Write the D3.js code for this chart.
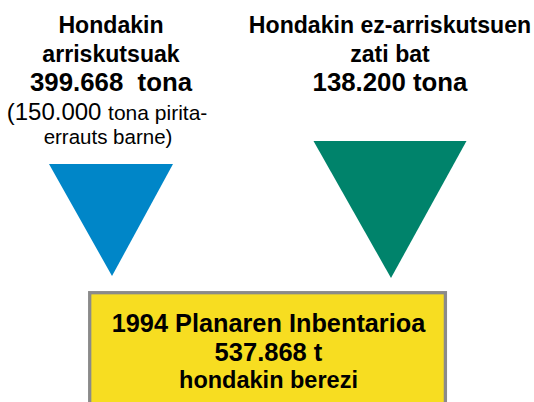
<!DOCTYPE html>
<html>
<head>
<meta charset="utf-8">
<script src="https://cdn.jsdelivr.net/npm/d3@7"></script>
<style>
  body { margin: 0; background: #fff; }
  svg { display: block; }
  text { font-family: "Liberation Sans", Arial, Helvetica, sans-serif; fill: #000; white-space: pre; }
</style>
</head>
<body>
<script>
// categories and values
var categories = ["Hondakin arriskutsuak", "Hondakin ez-arriskutsuen zati bat"];
var values = [399668, 138200];
var titleLines = [["Hondakin", "arriskutsuak"], ["Hondakin ez-arriskutsuen", "zati bat"]];
var valueLabels = ["399.668  tona", "138.200 tona"];
var noteLines = [["(150.000", "tona pirita-"], ["errauts barne)"]];
var totalLines = ["1994 Planaren Inbentarioa", "537.868 t", "hondakin berezi"];
var colors = ["#0086c8", "#00836b"];

var width = 534, height = 402;

var svg = d3.select("body").append("svg")
  .attr("width", width)
  .attr("height", height);

// x position of each branch
var x = d3.scalePoint().domain(categories).range([111, 390]);

// triangle geometry (layout only)
var triTop = [164, 141], triApex = [276, 278], triHalf = [62, 76.5];

var tri = d3.line();

svg.selectAll("path.tri")
  .data(categories)
  .enter().append("path")
  .attr("class", "tri")
  .attr("d", function(d, i) {
    var cx = x(d);
    return tri([[cx - triHalf[i], triTop[i]], [cx + triHalf[i], triTop[i]], [cx + 1, triApex[i]]]) + "Z";
  })
  .attr("fill", function(d, i) { return colors[i]; });

// labels over the triangles
var labels = svg.selectAll("g.lab")
  .data(categories)
  .enter().append("g")
  .attr("class", "lab")
  .attr("transform", function(d) { return "translate(" + x(d) + ",0)"; });

labels.each(function(d, i) {
  var g = d3.select(this);
  titleLines[i].forEach(function(t, j) {
    g.append("text")
      .attr("y", 33 + j * 29)
      .attr("text-anchor", "middle")
      .style("font-weight", "bold")
      .style("font-size", "23.1px")
      .text(t);
  });
  g.append("text")
    .attr("y", 91)
    .attr("text-anchor", "middle")
    .style("font-weight", "bold")
    .style("font-size", "25.8px")
    .text(valueLabels[i]);
});

// note under the first label
var note = svg.append("g")
  .attr("transform", "translate(" + (x(categories[0]) - 4) + ",0)");

var n1 = note.append("text")
  .attr("y", 120)
  .attr("text-anchor", "middle");
n1.append("tspan").style("font-size", "24px").text(noteLines[0][0] + " ");
n1.append("tspan").style("font-size", "21px").text(noteLines[0][1]);

note.append("text")
  .attr("y", 144)
  .attr("x", 1)
  .attr("text-anchor", "middle")
  .style("font-size", "20.5px")
  .text(noteLines[1][0]);

// total box
var box = svg.append("g");

box.append("rect")
  .attr("x", 89.7)
  .attr("y", 292.7)
  .attr("width", 355.7)
  .attr("height", 150)
  .attr("fill", "#f7dd21")
  .attr("stroke", "#8a8a8a")
  .attr("stroke-width", 3.3);

var boxSizes = ["25.3px", "25.5px", "23.5px"];
box.selectAll("text")
  .data(totalLines)
  .enter().append("text")
  .attr("x", 268.5)
  .attr("y", function(d, i) { return [332, 361, 388][i]; })
  .attr("text-anchor", "middle")
  .style("font-weight", "bold")
  .style("font-size", function(d, i) { return boxSizes[i]; })
  .text(function(d) { return d; });
</script>
</body>
</html>
